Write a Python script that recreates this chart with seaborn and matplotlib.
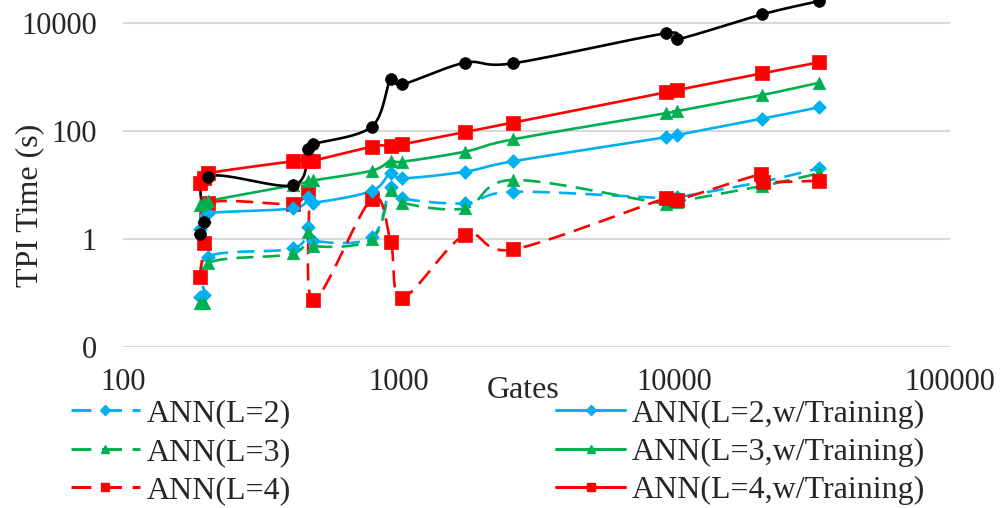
import numpy as np
import matplotlib
matplotlib.use("Agg")
import matplotlib.pyplot as plt
import seaborn as sns
from matplotlib.lines import Line2D

# gate counts of the benchmark circuits
gates = [190, 197, 203, 415, 470, 490, 798, 935, 1031, 1740, 2604, 9300, 10245, 20840, 33550]

# TPI time (s)
ann2 = [0.085, 0.09, 0.47, 0.67, 1.69, 0.93, 1.07, 9.3, 5.67, 4.58, 7.5, 5.67, 5.9, 11.5, 20.4]
ann3 = [0.065, 0.066, 0.355, 0.54, 1.36, 0.74, 0.99, 8.1, 4.7, 3.7, 12.4, 4.45, 4.9, 9.6, 16.5]
ann4_gates = [190, 197, 203, 415, 470, 490, 798, 935, 1031, 1740, 2604, 9300, 10245, 20600, 21010, 33550]
ann4 = [0.20, 0.83, 4.58, 4.45, 7.5, 0.074, 5.5, 0.89, 0.082, 1.19, 0.64, 5.67, 5.27, 15.8, 11.5, 12.0]
ann2_tr = [1.55, 2.1, 3.0, 3.7, 5.9, 4.7, 7.74, 16.9, 13.3, 17.6, 27.5, 76.4, 84.3, 169, 275]
ann3_tr = [4.26, 4.6, 5.05, 9.9, 11.9, 12.2, 18.4, 28.2, 27, 41.4, 70.2, 213, 234, 464, 784]
ann4_tr = [11.0, 13.5, 16.5, 27.5, 27.8, 28.2, 51.2, 53.4, 56.7, 95.8, 142.5, 521, 574, 1171, 1871]
total = [1.22, 2.09, 14.3, 9.9, 46, 57, 120, 918, 732, 1840, 1794, 6440, 4990, 14500, 25540]

blue, green, red = "#00B0F0", "#00B050", "#FF0000"
dash = (0, (6.5, 3.5))


def smooth(xs, ys, n=24):
    # Catmull-Rom curve in log-log space, like Excel's smoothed lines
    p = np.column_stack([np.log10(xs), np.log10(ys)])
    p = np.vstack([p[0], p, p[-1]])
    out = []
    t = np.linspace(0, 1, n)[:, None]
    for i in range(1, len(p) - 2):
        p0, p1, p2, p3 = p[i - 1], p[i], p[i + 1], p[i + 2]
        c1 = p1 + (p2 - p0) / 6
        c2 = p2 - (p3 - p1) / 6
        seg = ((1 - t) ** 3) * p1 + 3 * ((1 - t) ** 2) * t * c1 + 3 * (1 - t) * t ** 2 * c2 + t ** 3 * p2
        out.append(seg)
    out = np.vstack(out)
    return 10 ** out[:, 0], 10 ** out[:, 1]


sns.set_style("white")
plt.rcParams["font.family"] = ["Liberation Serif", "DejaVu Serif"]

fig = plt.figure(figsize=(10.01, 5.08), dpi=100)
ax = fig.add_axes([0.1229, 0.317, 0.8262, 0.683])
ax.set_xscale("log")
ax.set_yscale("log")

series = [
    ("ANN(L=2)", gates, ann2, blue, dash, "D", 7),
    ("ANN(L=3)", gates, ann3, green, dash, "^", 9),
    ("ANN(L=4)", ann4_gates, ann4, red, dash, "s", 9.5),
    ("ANN(L=2,w/Training)", gates, ann2_tr, blue, "-", "D", 7),
    ("ANN(L=3,w/Training)", gates, ann3_tr, green, "-", "^", 9),
    ("ANN(L=4,w/Training)", gates, ann4_tr, red, "-", "s", 9.5),
    (None, gates, total, "black", "-", "o", 8.5),
]

handles = []
for label, xs, ys, color, ls, marker, ms in series:
    sx, sy = smooth(xs, ys)
    sns.lineplot(x=sx, y=sy, sort=False, estimator=None, color=color,
                 linestyle=ls, linewidth=1.9, ax=ax)
    sns.scatterplot(x=xs, y=ys, marker=marker, color=color, s=ms ** 2,
                    edgecolor=color, linewidth=0.5, zorder=5, ax=ax, legend=False)
    if label:
        handles.append(Line2D([], [], color=color, linestyle=ls, linewidth=2.2,
                              marker=marker, markersize=5.5, label=label))

ax.set_xlim(100, 100000)
ax.set_ylim(0.01, 10 ** (4 + 23 / 54))
ax.set_yticks([0.01, 1, 100, 10000])
ax.set_yticklabels(["0", "1", "100", "10000"])
ax.set_xticks([100, 1000, 10000, 100000])
ax.set_xticklabels(["100", "1000", "10000", "100000"])
ax.minorticks_off()
ax.tick_params(axis="both", length=0, labelsize=22)
ax.tick_params(axis="x", pad=15)
ax.tick_params(axis="y", pad=19)
ax.grid(axis="y", color="#D9D9D9", linewidth=1.5)
ax.grid(axis="x", visible=False)
for s in ax.spines.values():
    s.set_visible(False)

ax.set_xlabel("Gates", fontsize=23)
ax.xaxis.set_label_coords(0.484, -0.083)
ax.set_ylabel("TPI Time (s)", fontsize=23)
ax.yaxis.set_label_coords(-0.095, 0.409)

fig.legend(handles=handles, ncol=2, loc="upper left", bbox_to_anchor=(0.071, 0.214),
           frameon=False, fontsize=23, handlelength=2.15, handletextpad=0.22,
           columnspacing=8.3, labelspacing=0.28, borderpad=0, borderaxespad=0)

fig.savefig("out.png", dpi=100)
